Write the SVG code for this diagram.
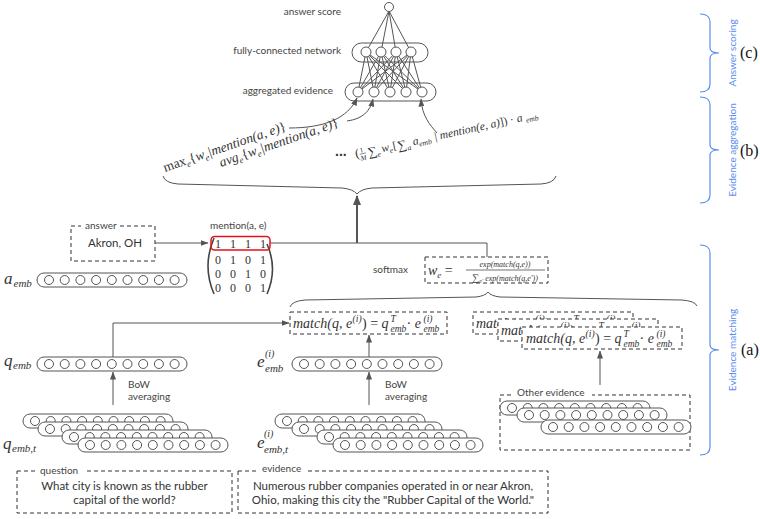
<svg xmlns="http://www.w3.org/2000/svg" xmlns:xlink="http://www.w3.org/1999/xlink" width="760" height="519" viewBox="0 0 760 519">
<style>
.ln{stroke:#555;stroke-width:1;fill:none}
.thick{stroke:#555;stroke-width:2;fill:none}
.capr{fill:#fff;stroke:#555;stroke-width:1}
.nd{fill:#fff;stroke:#555;stroke-width:1}
.dash{fill:#fff;stroke:#333;stroke-width:1;stroke-dasharray:4 3}
.sans{font-family:Lato,"Noto Sans",sans-serif;fill:#444;font-size:10px}
.txt{font-family:Lato,"Noto Sans",sans-serif;fill:#333;font-size:11.5px}
.m{font-family:"Liberation Serif","DejaVu Serif",serif;font-style:italic;fill:#333}
.r{font-style:normal}
.bl{stroke:#5b8def;stroke-width:1.2;fill:none}
.blt{font-family:Lato,"Noto Sans",sans-serif;fill:#5b8def;font-size:10px}
.lab{font-family:"Liberation Serif",serif;fill:#111;font-size:16px}
</style>
<defs>
<marker id="ar" markerUnits="userSpaceOnUse" markerWidth="8" markerHeight="6" refX="7.5" refY="3" orient="auto"><path d="M0,0 L8,3 L0,6 z" fill="#555"/></marker>
<marker id="arb" markerUnits="userSpaceOnUse" markerWidth="10" markerHeight="8" refX="9" refY="4" orient="auto"><path d="M0,0 L10,4 L0,8 z" fill="#555"/></marker>
<g id="cap">
<rect class="capr" x="0" y="-7" width="150" height="14" rx="7"/>
<circle class="nd" cx="12" cy="0" r="4.5"/><circle class="nd" cx="27.7" cy="0" r="4.5"/><circle class="nd" cx="43.4" cy="0" r="4.5"/><circle class="nd" cx="59.1" cy="0" r="4.5"/><circle class="nd" cx="74.8" cy="0" r="4.5"/><circle class="nd" cx="90.5" cy="0" r="4.5"/><circle class="nd" cx="106.2" cy="0" r="4.5"/><circle class="nd" cx="121.9" cy="0" r="4.5"/><circle class="nd" cx="137.6" cy="0" r="4.5"/>
</g>
<g id="matchTxt" class="m">
<text x="0" y="0" font-size="14">match(q, e</text>
<text x="59.6" y="-6" font-size="9.5">(i)</text>
<text x="69" y="0" font-size="14"><tspan class="r">)</tspan> <tspan class="r">=</tspan> q</text>
<text x="97.5" y="-6" font-size="9.5">T</text>
<text x="97.5" y="3.5" font-size="9.5">emb</text>
<text x="113.5" y="0" font-size="14"><tspan class="r"> · </tspan>e</text>
<text x="130.5" y="-6" font-size="9.5">(i)</text>
<text x="130.5" y="3.5" font-size="9.5">emb</text>
</g>
</defs>
<rect width="760" height="519" fill="#fff"/>

<!-- connectors -->
<g id="connectors">
<path class="ln" d="M389,11 L366,52 M389,11 L381,52 M389,11 L396,52 M389,11 L411,52"/>
<path class="ln" d="M366,52 L358,92 M366,52 L374,92 M366,52 L390,92 M366,52 L406,92 M366,52 L422,92 M381,52 L358,92 M381,52 L374,92 M381,52 L390,92 M381,52 L406,92 M381,52 L422,92 M396,52 L358,92 M396,52 L374,92 M396,52 L390,92 M396,52 L406,92 M396,52 L422,92 M411,52 L358,92 M411,52 L374,92 M411,52 L390,92 M411,52 L406,92 M411,52 L422,92"/>
<path class="ln" marker-end="url(#ar)" d="M289,128 C325,128 348,118 357,98"/>
<path class="ln" marker-end="url(#ar)" d="M347,121 C362,119 370,112 373,99"/>
<path class="ln" marker-end="url(#ar)" d="M437,133 C430,125 422,116 421,99"/>
<path class="ln" marker-end="url(#ar)" d="M155,243 L208,243"/>
<path class="ln" d="M270,243 L487,243 L487,257"/>
<path class="thick" marker-end="url(#arb)" d="M357,243 L357,196"/>
<path class="ln" marker-end="url(#ar)" d="M113,357 L113,323 L289,323"/>
<path class="ln" marker-end="url(#ar)" d="M369,357 L369,335"/>
<path class="ln" marker-end="url(#ar)" d="M113,405 L113,372"/>
<path class="ln" marker-end="url(#ar)" d="M369,405 L369,372"/>
<path class="ln" marker-end="url(#ar)" d="M600,385 L600,351"/>
<path class="ln" d="M163,176 Q165,183 178,184 L342,188 Q353,189 357,194 Q361,189 372,188 L541,184 Q554,183 556,176"/>
<path class="ln" d="M290,307 Q292,301 305,300 L476,297 Q485,296 488,292 Q491,296 500,297 L682,300 Q695,301 697,306"/>
</g>

<!-- answer scoring network -->
<g id="network">
<circle class="nd" cx="389" cy="7" r="4.5"/>
<rect x="352" y="43" width="76" height="19" rx="9.5" class="ln"/>
<rect x="345" y="83" width="91" height="18" rx="9" class="ln"/>
<circle class="nd" cx="366" cy="52" r="5"/><circle class="nd" cx="381" cy="52" r="5"/><circle class="nd" cx="396" cy="52" r="5"/><circle class="nd" cx="411" cy="52" r="5"/>
<circle class="nd" cx="358" cy="92" r="5"/><circle class="nd" cx="374" cy="92" r="5"/><circle class="nd" cx="390" cy="92" r="5"/><circle class="nd" cx="406" cy="92" r="5"/><circle class="nd" cx="422" cy="92" r="5"/>
<text class="sans" x="341" y="15" text-anchor="end">answer score</text>
<text class="sans" x="341" y="54" text-anchor="end">fully-connected network</text>
<text class="sans" x="333" y="94" text-anchor="end">aggregated evidence</text>
</g>

<!-- aggregation formulas -->
<g id="formulas">
<text class="m" font-size="13.5" transform="translate(165,172) rotate(-19)"><tspan class="r">max</tspan><tspan font-size="9" dy="3">e</tspan><tspan class="r" dy="-3">{</tspan>w<tspan font-size="9" dy="3">e</tspan><tspan dy="-3">|mention(a, e)</tspan><tspan class="r">}</tspan></text>
<text class="m" font-size="13.5" transform="translate(221,167) rotate(-19)">avg<tspan font-size="9" dy="3">e</tspan><tspan class="r" dy="-3">{</tspan>w<tspan font-size="9" dy="3">e</tspan><tspan dy="-3">|mention(a, e)</tspan><tspan class="r">}</tspan></text>
<text x="335" y="156" font-family="Liberation Sans, sans-serif" font-size="14" font-weight="bold" fill="#333">...</text>
<g transform="translate(356,158) rotate(-12.5) scale(1.28)" class="m">
<text x="0" y="0" font-size="10" class="r">(</text>
<text x="4.2" y="-3.3" font-size="5.5" class="r">1</text>
<path d="M3.5,-2.2 L8.5,-2.2" stroke="#333" stroke-width="0.4"/>
<text x="3.6" y="3" font-size="5.5">M</text>
<text x="10" y="1" font-size="10" class="r">∑</text>
<text x="17" y="3" font-size="6">e</text>
<text x="21" y="0" font-size="9">w</text>
<text x="27" y="2" font-size="6">e</text>
<text x="30" y="0" font-size="9" class="r">[</text>
<text x="33.5" y="1" font-size="10" class="r">∑</text>
<text x="41" y="3" font-size="6">a</text>
<text x="46" y="0" font-size="9">a</text>
<text x="50.5" y="2" font-size="6">emb</text>
<text x="63" y="0" font-size="9">| mention(e, a)<tspan class="r">]) · </tspan>a</text>
<text x="136" y="2" font-size="6">emb</text>
</g>
</g>

<!-- answer -->
<g id="answer">
<rect class="dash" x="71" y="226" width="84" height="35"/>
<rect x="81" y="219" width="38" height="11" fill="#fff"/>
<text class="sans" x="85" y="229">answer</text>
<text class="txt" x="88" y="247" font-size="12">Akron, OH</text>
</g>

<!-- mention matrix -->
<g id="mention">
<text class="sans" x="210" y="229">mention(a, e)</text>
<path d="M214,238 Q202,266 214,294" stroke="#444" stroke-width="1.6" fill="none"/>
<path d="M267,244 Q278,269 267,294" stroke="#444" stroke-width="1.6" fill="none"/>
<g font-family="Liberation Serif, serif" font-size="12" fill="#333" text-anchor="middle">
<text y="248"><tspan x="218">1</tspan><tspan x="233">1</tspan><tspan x="248">1</tspan><tspan x="263">1</tspan></text>
<text y="264"><tspan x="218">0</tspan><tspan x="233">1</tspan><tspan x="248">0</tspan><tspan x="263">1</tspan></text>
<text y="278"><tspan x="218">0</tspan><tspan x="233">0</tspan><tspan x="248">1</tspan><tspan x="263">0</tspan></text>
<text y="292"><tspan x="218">0</tspan><tspan x="233">0</tspan><tspan x="248">0</tspan><tspan x="263">1</tspan></text>
</g>
<rect x="211" y="236.5" width="59" height="13.5" rx="3.5" fill="none" stroke="#e5121b" stroke-width="1.5"/>
</g>

<!-- a_emb -->
<g id="a-emb">
<text class="m" x="4" y="284" font-size="17">a</text><text class="m" x="13.5" y="287" font-size="11">emb</text>
<use xlink:href="#cap" href="#cap" x="37" y="280"/>
</g>

<!-- softmax -->
<g id="softmax">
<text class="sans" x="373" y="273">softmax</text>
<rect class="dash" x="425" y="257" width="123" height="26"/>
<text class="m" x="428" y="275" font-size="14">w<tspan font-size="9" dy="3">e</tspan><tspan class="r" dy="-3"> =</tspan></text>
<path d="M466,270 L545,270" stroke="#333" stroke-width="0.7"/>
<text class="m" x="505" y="267" font-size="8" text-anchor="middle">exp(match(q,e))</text>
<text class="m" x="505" y="281" font-size="8" text-anchor="middle"><tspan class="r" font-size="10">∑</tspan><tspan font-size="6" dy="2">e′</tspan><tspan dy="-2"> exp(match(q,e′))</tspan></text>
</g>

<!-- match box -->
<g id="match-main">
<rect class="dash" x="290" y="312" width="157" height="22"/>
<use xlink:href="#matchTxt" href="#matchTxt" x="293" y="328"/>
</g>

<!-- other match boxes -->
<g id="match-others">
<rect class="dash" x="473" y="312" width="160" height="22"/>
<use xlink:href="#matchTxt" href="#matchTxt" x="476" y="328"/>
<rect class="dash" x="498" y="319" width="160" height="22"/>
<use xlink:href="#matchTxt" href="#matchTxt" x="501" y="335"/>
<rect class="dash" x="522" y="327" width="160" height="22"/>
<use xlink:href="#matchTxt" href="#matchTxt" x="526" y="343"/>
</g>

<!-- q_emb -->
<g id="q-emb">
<text class="m" x="4" y="366" font-size="17">q</text><text class="m" x="13" y="369" font-size="11">emb</text>
<use xlink:href="#cap" href="#cap" x="37" y="364"/>
<text class="sans" x="128" y="388">BoW</text>
<text class="sans" x="128" y="400">averaging</text>
</g>

<!-- e_emb -->
<g id="e-emb">
<text class="m" x="257" y="367" font-size="17">e</text><text class="m" x="265" y="357" font-size="10">(i)</text><text class="m" x="265" y="372" font-size="11">emb</text>
<use xlink:href="#cap" href="#cap" x="292" y="364"/>
<text class="sans" x="385" y="388">BoW</text>
<text class="sans" x="385" y="400">averaging</text>
</g>

<!-- q_emb,t stack -->
<g id="q-emb-t">
<use xlink:href="#cap" href="#cap" x="23" y="421"/>
<use xlink:href="#cap" href="#cap" x="38" y="429"/>
<use xlink:href="#cap" href="#cap" x="62" y="437"/>
<use xlink:href="#cap" href="#cap" x="78" y="445"/>
<text class="m" x="3" y="449" font-size="17">q</text><text class="m" x="12" y="452" font-size="11">emb,t</text>
</g>

<!-- e_emb,t stack -->
<g id="e-emb-t">
<use xlink:href="#cap" href="#cap" x="275" y="421"/>
<use xlink:href="#cap" href="#cap" x="292" y="429"/>
<use xlink:href="#cap" href="#cap" x="317" y="437"/>
<use xlink:href="#cap" href="#cap" x="333" y="445"/>
<text class="m" x="257" y="448" font-size="17">e</text><text class="m" x="264" y="437" font-size="10">(i)</text><text class="m" x="264" y="453" font-size="11">emb,t</text>
</g>

<!-- other evidence -->
<g id="other-evidence">
<rect class="dash" x="500" y="395" width="190" height="55"/>
<rect x="512" y="388" width="80" height="12" fill="#fff"/>
<text class="sans" x="517" y="396">Other evidence</text>
<use xlink:href="#cap" href="#cap" x="500" y="408"/>
<use xlink:href="#cap" href="#cap" x="517" y="415"/>
<use xlink:href="#cap" href="#cap" x="541" y="427"/>
</g>

<!-- question -->
<g id="question">
<rect class="dash" x="17" y="471" width="215" height="42"/>
<rect x="35" y="465" width="50" height="11" fill="#fff"/>
<text class="sans" x="40" y="474">question</text>
<text class="txt" x="124.5" y="490" text-anchor="middle">What city is known as the rubber</text>
<text class="txt" x="124.5" y="504" text-anchor="middle">capital of the world?</text>
</g>

<!-- evidence -->
<g id="evidence">
<rect class="dash" x="238" y="471" width="310" height="42"/>
<rect x="257" y="464" width="48" height="11" fill="#fff"/>
<text class="sans" x="262" y="472">evidence</text>
<text class="txt" x="393" y="490" text-anchor="middle">Numerous rubber companies operated in or near Akron,</text>
<text class="txt" x="393" y="504" text-anchor="middle">Ohio, making this city the "Rubber Capital of the World."</text>
</g>

<!-- stage brackets -->
<g id="stages">
<path class="bl" d="M700,14 Q710,14 710,22 L710,48 Q710,53 719,53 Q710,53 710,58 L710,84 Q710,92 700,92"/>
<path class="bl" d="M700,97 Q710,97 710,105 L710,145 Q710,150 719,150 Q710,150 710,155 L710,195 Q710,203 700,203"/>
<path class="bl" d="M700,245 Q710,245 710,253 L710,345 Q710,350 719,350 Q710,350 710,355 L710,447 Q710,455 700,455"/>
<text class="blt" transform="translate(736,53) rotate(-90)" text-anchor="middle">Answer scoring</text>
<text class="blt" transform="translate(736,150) rotate(-90)" text-anchor="middle">Evidence aggregation</text>
<text class="blt" transform="translate(736,350) rotate(-90)" text-anchor="middle">Evidence matching</text>
<text class="lab" x="740" y="58">(c)</text>
<text class="lab" x="740" y="156">(b)</text>
<text class="lab" x="741" y="355">(a)</text>
</g>
</svg>
